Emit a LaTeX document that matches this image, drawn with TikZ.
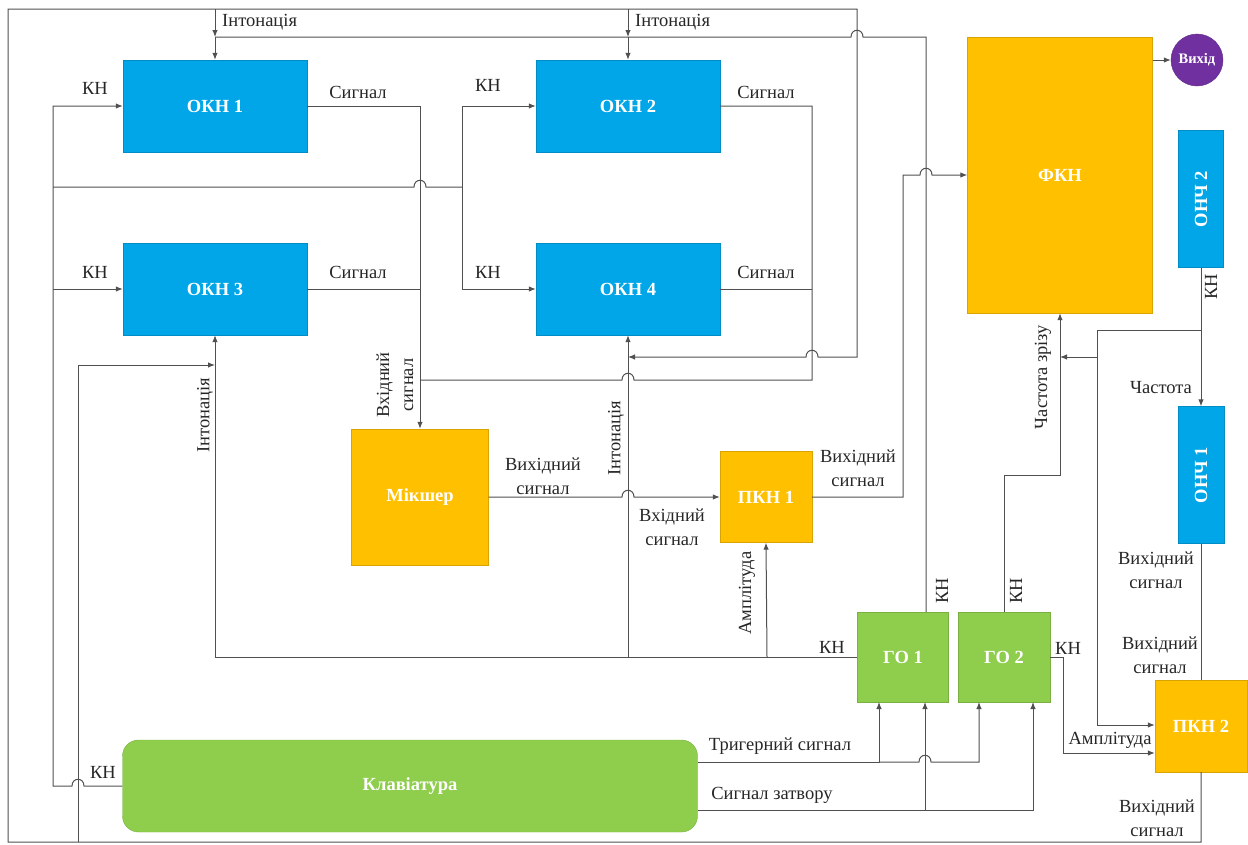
\documentclass[tikz,border=0pt]{standalone}
\usepackage{fontspec}
\setmainfont{Liberation Serif}
\usetikzlibrary{arrows.meta}
\definecolor{cblue}{RGB}{0,166,232}
\definecolor{corange}{RGB}{255,192,0}
\definecolor{cgreen}{RGB}{143,206,76}
\definecolor{cpurple}{RGB}{112,48,160}
\definecolor{cline}{RGB}{80,80,80}
\newcommand\jmpR[2]{-- (#1-6,#2) .. controls (#1-6,#2-9) and (#1+6,#2-9) .. (#1+6,#2)}
\newcommand\jmpL[2]{-- (#1+6,#2) .. controls (#1+6,#2-9) and (#1-6,#2-9) .. (#1-6,#2)}
\begin{document}
\begin{tikzpicture}[x=1pt,y=-1pt,
  box/.style={draw=#1!85!black, line width=0.4pt, fill=#1, text=white,
    font=\bfseries\fontsize{18.5}{21}\selectfont, inner sep=0pt},
  lbl/.style={font=\fontsize{18.5}{24}\selectfont, inner sep=0pt, text=black!85, align=center},
  ln/.style={draw=cline, line width=1pt},
  arr/.style={ln, -{Latex[length=7pt,width=5.5pt]}}]
\useasboundingbox (0,0) rectangle (1248,844);
% blocks
\node[box=cblue, minimum width=184pt, minimum height=92pt] (OKN1) at (215,106) {ОКН 1};
\node[box=cblue, minimum width=184pt, minimum height=92pt] (OKN2) at (628,106) {ОКН 2};
\node[box=cblue, minimum width=184pt, minimum height=92pt] (OKN3) at (215,289) {ОКН 3};
\node[box=cblue, minimum width=184pt, minimum height=92pt] (OKN4) at (628,289) {ОКН 4};
\node[box=corange, minimum width=137pt, minimum height=136pt] (MIX) at (420,497) {Мікшер};
\node[box=corange, minimum width=92pt, minimum height=91pt] (PKN1) at (766,497) {ПКН 1};
\node[box=corange, minimum width=185pt, minimum height=276pt] (FKN) at (1060,175) {ФКН};
\node[circle, fill=cpurple, draw=cpurple!85!black, text=white, minimum size=52pt, inner sep=0pt,
  font=\bfseries\fontsize{14.5}{16}\selectfont] (OUT) at (1197,60) {Вихід};
\node[box=cblue, rotate=90, minimum width=137pt, minimum height=45pt] (ONCH2) at (1201,199) {ОНЧ 2};
\node[box=cblue, rotate=90, minimum width=137pt, minimum height=46pt] (ONCH1) at (1201,475) {ОНЧ 1};
\node[box=cgreen, minimum width=91pt, minimum height=90pt] (GO1) at (903,657) {ГО 1};
\node[box=cgreen, minimum width=92pt, minimum height=90pt] (GO2) at (1004,657) {ГО 2};
\node[box=corange, minimum width=92pt, minimum height=92pt] (PKN2) at (1201,726) {ПКН 2};
\node[box=cgreen, rounded corners=16pt, minimum width=575pt, minimum height=92pt] (KB) at (410,786) {Клавіатура};

% PKN2 output loop (intonation)
\draw[arr] (PKN2.south) -- (1201,842) -- (8,842) -- (8,9) -- (857,9) -- (857,357) \jmpL{812}{357} -- (628,357);
\draw[arr] (215,9) -- (215,37);
\draw[arr] (628,9) -- (628,37);
\draw[arr] (78,842) -- (78,365) -- (215,365);
% GO1 top KN
\draw[ln] ([xshift=23pt]GO1.north) -- (926,37) \jmpL{857}{37} -- (215,37);
\draw[arr] (215,37) -- (OKN1.north);
\draw[arr] (628,37) -- (OKN2.north);
% GO1 left KN
\draw[arr] (GO1.west) -- (215,657) -- (OKN3.south);
\draw[arr] (767,657) -- (PKN1.south);
\draw[arr] (628,657) -- (OKN4.south);
% keyboard KN
\draw[arr] (KB.west) \jmpL{78}{786} -- (53,786) -- (53,106) -- (OKN1.west);
\draw[arr] (53,289) -- (OKN3.west);
\draw[ln] (53,187) \jmpR{420}{187} -- (462,187);
\draw[arr] (462,187) -- (462,106) -- (OKN2.west);
\draw[arr] (462,187) -- (462,289) -- (OKN4.west);
% signals to mixer
\draw[arr] (OKN1.east) -- (420,106) -- (MIX.north);
\draw[ln] (OKN3.east) -- (420,289);
\draw[ln] (OKN2.east) -- (812,106) -- (812,380) \jmpL{628}{380} -- (420,380);
\draw[ln] (OKN4.east) -- (812,289);
% mixer -> PKN1 -> FKN -> out
\draw[arr] (MIX.east) \jmpR{628}{497} -- (PKN1.west);
\draw[arr] (PKN1.east) -- (903,497) -- (903,175) \jmpR{926}{175} -- (FKN.west);
\draw[arr] (FKN.east |- OUT.west) -- (OUT.west);
% GO2 KN
\draw[arr] (GO2.north) -- (1004,475) -- (1060,475) -- (FKN.south);
\draw[arr] (GO2.east) -- (1063,657) -- (1063,753) -- (PKN2.west |- 0,753);
% ONCH2 KN
\draw[arr] (ONCH2.west) -- (ONCH1.east);
\draw[arr] (1201,330) -- (1097,330) -- (1097,725) -- (PKN2.west |- 0,725);
\draw[arr] (1097,357) -- (1060,357);
% ONCH1 -> PKN2
\draw[ln] (ONCH1.west) -- (PKN2.north);
% keyboard trigger / gate
\draw[arr] ([yshift=24pt]KB.east) -- (879,762) -- (879,702);
\draw[arr] (879,762) \jmpR{925}{762} -- (979,762) -- (979,702);
\draw[arr] ([yshift=-24pt]KB.east) -- (1033,810) -- (1033,702);
\draw[arr] (925,810) -- (925,702);

% labels
\node[lbl, anchor=west] (t1) at (222,22) {Інтонація};
\node[lbl, anchor=west] (t2) at (635,22) {Інтонація};
\node[lbl] (k1) at (95,88) {КН};
\node[lbl] (k2) at (95,272) {КН};
\node[lbl] (k3) at (488,85) {КН};
\node[lbl] (k4) at (488,272) {КН};
\node[lbl] (s1) at (358,92) {Сигнал};
\node[lbl] (s2) at (358,272) {Сигнал};
\node[lbl] (s3) at (766,92) {Сигнал};
\node[lbl] (s4) at (766,272) {Сигнал};
\node[lbl, rotate=90] (v1) at (395,385) {Вхідний\\сигнал};
\node[lbl, rotate=90] (t3) at (205,415) {Інтонація};
\node[lbl, rotate=90] (t4) at (616,438) {Інтонація};
\node[lbl] (o1) at (543,476) {Вихідний\\сигнал};
\node[lbl] (v2) at (672,527) {Вхідний\\сигнал};
\node[lbl] (o2) at (858,468) {Вихідний\\сигнал};
\node[lbl, rotate=90] (a1) at (747,593) {Амплітуда};
\node[lbl] (k5) at (832,647) {КН};
\node[lbl, rotate=90] (k6) at (942,591) {КН};
\node[lbl, rotate=90] (k7) at (1016,591) {КН};
\node[lbl, rotate=90] (f1) at (1043,377) {Частота зрізу};
\node[lbl, rotate=90] (k8) at (1211,287) {КН};
\node[lbl] (f2) at (1161,388) {Частота};
\node[lbl] (o3) at (1156,570) {Вихідний\\сигнал};
\node[lbl] (o4) at (1160,655) {Вихідний\\сигнал};
\node[lbl] (k9) at (1068,648) {КН};
\node[lbl] (a2) at (1110,740) {Амплітуда};
\node[lbl] (o5) at (1157,818) {Вихідний\\сигнал};
\node[lbl] (tr) at (780,746) {Тригерний сигнал};
\node[lbl] (gt) at (772,795) {Сигнал затвору};
\node[lbl] (k10) at (103,772) {КН};
\end{tikzpicture}
\end{document}
